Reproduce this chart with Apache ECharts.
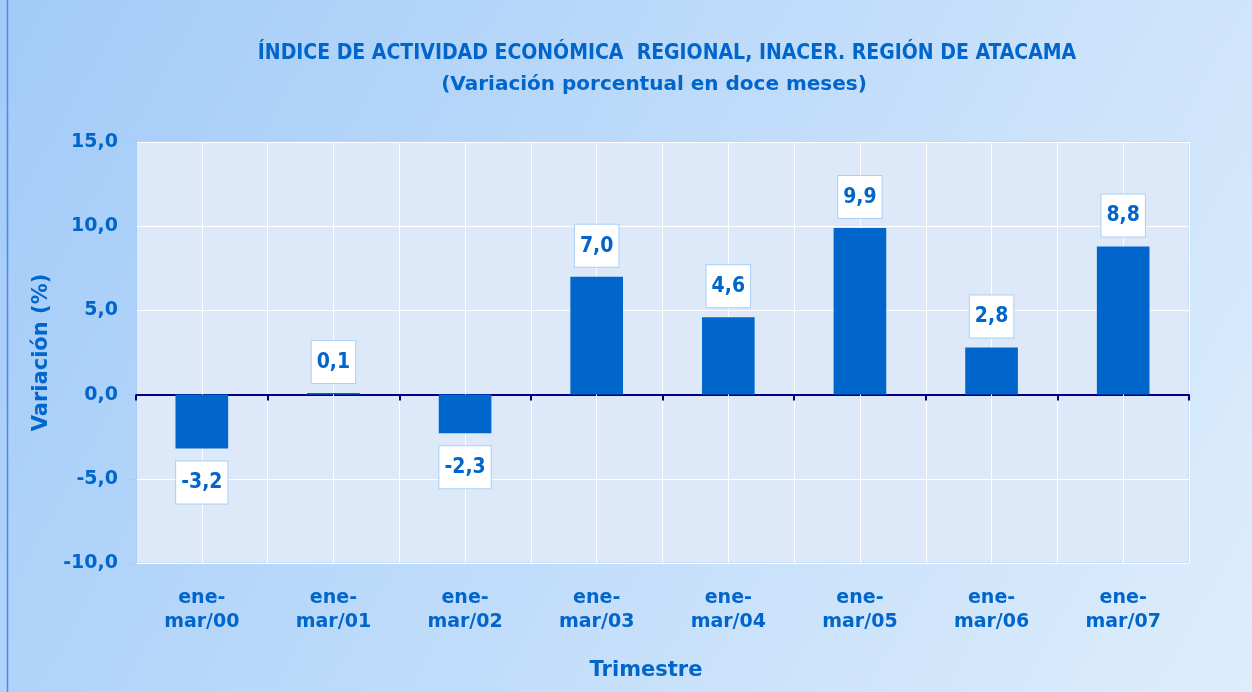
<!DOCTYPE html>
<html>
<head>
<meta charset="utf-8">
<script src="https://cdn.jsdelivr.net/npm/echarts@6/dist/echarts.min.js"></script>
<style>
  html, body { margin: 0; padding: 0; }
  #wrap { width: 1252px; height: 692px; }
</style>
</head>
<body>
<div id="wrap"></div>
<script>
// datos del grafico
var categories = ['ene-\nmar/00', 'ene-\nmar/01', 'ene-\nmar/02', 'ene-\nmar/03',
                  'ene-\nmar/04', 'ene-\nmar/05', 'ene-\nmar/06', 'ene-\nmar/07'];
var variacion = [-3.2, 0.1, -2.3, 7.0, 4.6, 9.9, 2.8, 8.8];

var blue = '#0066cc';
var font = 'Tahoma, "DejaVu Sans", sans-serif';
var fontCond = '"DejaVu Sans Condensed", ' + font;

function fmt(v) {
    return v.toFixed(1).replace('.', ',');
}

var myChart = echarts.init(document.getElementById('wrap'));

var option = {
    backgroundColor: new echarts.graphic.LinearGradient(0, 0, 1, 1, [
        { offset: 0, color: '#a2cbf8' },
        { offset: 1, color: '#deedfc' }
    ]),
    title: [
        {
            text: 'ÍNDICE DE ACTIVIDAD ECONÓMICA  REGIONAL, INACER. REGIÓN DE ATACAMA',
            left: 662, top: 38, textAlign: 'center',
            textStyle: { fontFamily: fontCond, fontWeight: 'bold', fontSize: 21, color: blue }
        },
        {
            text: '(Variación porcentual en doce meses)',
            left: 649, top: 70, textAlign: 'center',
            textStyle: { fontFamily: font, fontWeight: 'bold', fontSize: 20, color: blue }
        },
        {
            text: 'Trimestre',
            left: 641, top: 655, textAlign: 'center',
            textStyle: { fontFamily: font, fontWeight: 'bold', fontSize: 21, color: blue }
        }
    ],
    graphic: [{
        type: 'rect',
        shape: { x: 7.5, y: -5, width: 1250, height: 710 },
        style: { fill: 'none', stroke: '#4d86f0', lineWidth: 1.5 },
        silent: true
    }],
    grid: {
        left: 136, right: 63, top: 142, bottom: 129,
        containLabel: false,
        outerBoundsMode: 'none',
        show: true,
        backgroundColor: '#dde9f8',
        borderColor: '#b0d4fa',
        borderWidth: 1
    },
    xAxis: [
        {
            // eje de etiquetas, abajo
            type: 'category',
            data: categories,
            position: 'bottom',
            axisLine: { onZero: false, show: false },
            axisTick: { show: false },
            axisLabel: {
                margin: 23,
                fontFamily: font, fontWeight: 'bold', fontSize: 19, color: blue,
                lineHeight: 24, interval: 0
            },
            splitLine: { show: true, interval: 0, lineStyle: { color: '#ffffff', width: 1 } }
        },
        {
            // linea del cero con marcas
            type: 'category',
            data: categories,
            position: 'top',
            axisLine: { onZero: true, lineStyle: { color: '#000080', width: 2 } },
            axisTick: { show: true, inside: true, length: 6, interval: 0, lineStyle: { color: '#000080', width: 2 } },
            axisLabel: { show: false },
            splitLine: { show: false }
        }
    ],
    yAxis: {
        type: 'value',
        min: -10, max: 15, interval: 5,
        name: 'Variación (%)',
        nameLocation: 'middle',
        nameGap: 84,
        nameTextStyle: { fontFamily: font, fontWeight: 'bold', fontSize: 21, color: blue },
        axisLine: { show: true, lineStyle: { color: '#a8cdf6' } },
        axisTick: { show: true, length: 8, lineStyle: { color: '#a8cdf6' } },
        axisLabel: {
            margin: 18,
            formatter: fmt,
            fontFamily: font, fontWeight: 'bold', fontSize: 19, color: blue
        },
        splitLine: { lineStyle: { color: '#ffffff', width: 1 } }
    },
    series: [{
        type: 'bar',
        xAxisIndex: 0,
        barWidth: '40%',
        z: 3,
        itemStyle: { color: blue },
        data: variacion.map(function (v) {
            return {
                value: v,
                label: { position: v < 0 ? 'bottom' : 'top', distance: v < 0 ? 13 : 10 }
            };
        }),
        label: {
            show: true,
            formatter: function (p) { return fmt(p.value); },
            fontFamily: fontCond, fontWeight: 'bold', fontSize: 21, color: blue,
            backgroundColor: '#ffffff',
            borderColor: '#a8d0f8',
            borderWidth: 1,
            padding: [11, 5, 10, 5]
        },
        // lineas verticales en el centro de cada categoria
        markLine: {
            silent: true,
            symbol: 'none',
            z: 1,
            label: { show: false },
            lineStyle: { color: '#ffffff', width: 1, type: 'solid' },
            data: categories.map(function (c) { return { xAxis: c }; })
        }
    }]
};

myChart.setOption(option);
</script>
</body>
</html>
